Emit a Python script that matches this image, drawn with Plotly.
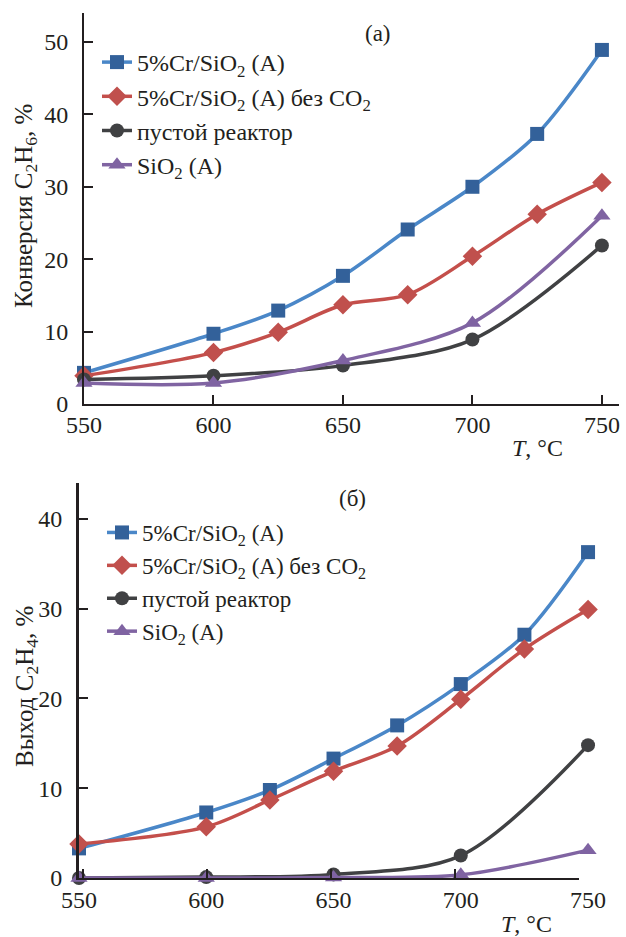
import plotly.graph_objects as go

# ---- data ----
temps_full = [550, 600, 625, 650, 675, 700, 725, 750]
temps_sparse = [550, 600, 650, 700, 750]

names = ["5%Cr/SiO<sub>2</sub> (A)", "5%Cr/SiO<sub>2</sub> (A) без CO<sub>2</sub>",
         "пустой реактор", "SiO<sub>2</sub> (A)"]

# (a) conversion of C2H6, %
conv_cr = [4.3, 9.7, 12.9, 17.7, 24.1, 30.0, 37.3, 48.9]
conv_cr_noco2 = [3.9, 7.1, 9.9, 13.7, 15.1, 20.4, 26.2, 30.6]
conv_empty = [3.4, 3.9, 5.3, 8.9, 21.9]
conv_sio2 = [2.9, 2.9, 6.0, 11.2, 26.0]

# (б) yield of C2H4, %
yld_cr = [3.3, 7.3, 9.8, 13.3, 17.0, 21.6, 27.1, 36.3]
yld_cr_noco2 = [3.8, 5.7, 8.7, 11.9, 14.7, 19.9, 25.5, 29.9]
yld_empty = [0.0, 0.1, 0.4, 2.5, 14.8]
yld_sio2 = [0.0, 0.0, 0.05, 0.35, 3.1]

# ---- styles ----
line_cols = ["#4a87c8", "#c44f4b", "#404143", "#8064a2"]
mark_cols = ["#33619a", "#c0504d", "#404143", "#7f63a2"]
symbols = ["square", "diamond", "circle", "triangle-up"]
msizes = [14, 15, 14, 15]
FONT = "Liberation Serif, Times New Roman, serif"
INK = "#231f20"

W, H = 626, 937
def px_x(p): return p / W
def px_y(p): return 1 - p / H

fig = go.Figure()

top_series = [(temps_full, conv_cr), (temps_full, conv_cr_noco2),
              (temps_sparse, conv_empty), (temps_sparse, conv_sio2)]
bot_series = [(temps_full, yld_cr), (temps_full, yld_cr_noco2),
              (temps_sparse, yld_empty), (temps_sparse, yld_sio2)]

for i, (xs, ys) in enumerate(top_series):
    fig.add_trace(go.Scatter(
        x=xs, y=ys, mode="lines+markers", name=names[i],
        line=dict(color=line_cols[i], width=3.5, shape="spline", smoothing=0.9),
        marker=dict(symbol=symbols[i], size=msizes[i], color=mark_cols[i]),
        cliponaxis=False, legend="legend",
        xaxis="x", yaxis="y"))

for i, (xs, ys) in enumerate(bot_series):
    fig.add_trace(go.Scatter(
        x=xs, y=ys, mode="lines+markers", name=names[i],
        line=dict(color=line_cols[i], width=3.5, shape="spline", smoothing=0.9),
        marker=dict(symbol=symbols[i], size=msizes[i], color=mark_cols[i]),
        cliponaxis=False, legend="legend2",
        xaxis="x2", yaxis="y2"))

# empty trace so the decorative bottom axes (x3/y3) get drawn
fig.add_trace(go.Scatter(x=[], y=[], xaxis="x3", yaxis="y3", showlegend=False,
                         hoverinfo="skip"))

tickfont = dict(family=FONT, size=24, color=INK)

# top panel geometry (pixels)
t_left, t_right, t_top, t_bot = 84, 619, 13, 404
# bottom panel geometry
b_left, b_right, b_top, b_bot = 79, 600, 483, 878
b_axis_end = 579
y2_pad = 0.6
px_per_unit_b = (b_bot - b_top) / 44.0

fig.update_layout(
    width=W, height=H, margin=dict(l=0, r=0, t=0, b=0, autoexpand=False),
    paper_bgcolor="white", plot_bgcolor="rgba(0,0,0,0)",
    font=dict(family=FONT, color=INK),
    xaxis=dict(domain=[px_x(t_left), px_x(t_right)], range=[550, 756.6],
               tickvals=[550, 600, 650, 700, 750], showgrid=False, zeroline=False,
               showline=True, linecolor=INK, linewidth=2, ticks="inside",
               ticklen=9, tickwidth=1.5, tickcolor=INK, tickfont=tickfont,
               anchor="y", ticklabelstandoff=-2, automargin=False),
    yaxis=dict(domain=[px_y(t_bot), px_y(t_top)], range=[0, 54],
               tickvals=[0, 10, 20, 30, 40, 50], showgrid=False, zeroline=False,
               showline=True, linecolor=INK, linewidth=2, ticks="inside",
               ticklen=9, tickwidth=1.5, tickcolor=INK, tickfont=tickfont,
               anchor="x", ticklabelstandoff=9, automargin=False),
    # bottom data axes
    xaxis2=dict(domain=[px_x(b_left), px_x(b_right)], range=[550, 754.7],
                tickvals=[550, 600, 650, 700, 750], showgrid=False, zeroline=False,
                showline=False, ticks="", tickfont=tickfont,
                anchor="free", position=px_y(b_bot), ticklabelstandoff=5,
                automargin=False),
    yaxis2=dict(domain=[px_y(b_bot + y2_pad * px_per_unit_b), px_y(b_top)],
                range=[-y2_pad, 44], visible=False, anchor="x2", automargin=False),
    # bottom decorative axes (line + ticks)
    xaxis3=dict(domain=[px_x(b_left), px_x(b_axis_end)], range=[548.4, 750],
                tickvals=[550, 600, 650, 700, 750], showticklabels=False,
                showgrid=False, zeroline=False, showline=True, linecolor=INK,
                linewidth=2, ticks="inside", ticklen=9, tickwidth=1.5,
                tickcolor=INK, anchor="y3", automargin=False),
    yaxis3=dict(domain=[px_y(b_bot), px_y(b_top)], range=[0, 44],
                tickvals=[0, 10, 20, 30, 40], showgrid=False, zeroline=False,
                showline=True, linecolor=INK, linewidth=3, ticks="inside",
                ticklen=9, tickwidth=1.5, tickcolor=INK, tickfont=tickfont,
                anchor="x3", ticklabelstandoff=9, automargin=False),
    legend=dict(x=px_x(97), y=px_y(40), xanchor="left", yanchor="top",
                bgcolor="rgba(0,0,0,0)", tracegroupgap=0,
                font=dict(family=FONT, size=24, color=INK)),
    legend2=dict(x=px_x(102), y=px_y(511), xanchor="left", yanchor="top",
                 bgcolor="rgba(0,0,0,0)", tracegroupgap=0,
                 font=dict(family=FONT, size=23, color=INK)),
    showlegend=True,
)

def ann(text, x, y, size=23, angle=0):
    fig.add_annotation(text=text, x=px_x(x), y=px_y(y), xref="paper", yref="paper",
                       xanchor="center", yanchor="middle", showarrow=False,
                       textangle=angle, font=dict(family=FONT, size=size, color=INK))

ann("(а)", 378, 33)
ann("(б)", 352, 498)
ann("<i>T</i>, °C", 537, 448, 24)
ann("<i>T</i>, °C", 526, 924, 24)
ann("Конверсия C<sub>2</sub>H<sub>6</sub>, %", 26, 206, 25, -90)
ann("Выход C<sub>2</sub>H<sub>4</sub>, %", 26, 687, 25, -90)

fig.write_html("out.html")
